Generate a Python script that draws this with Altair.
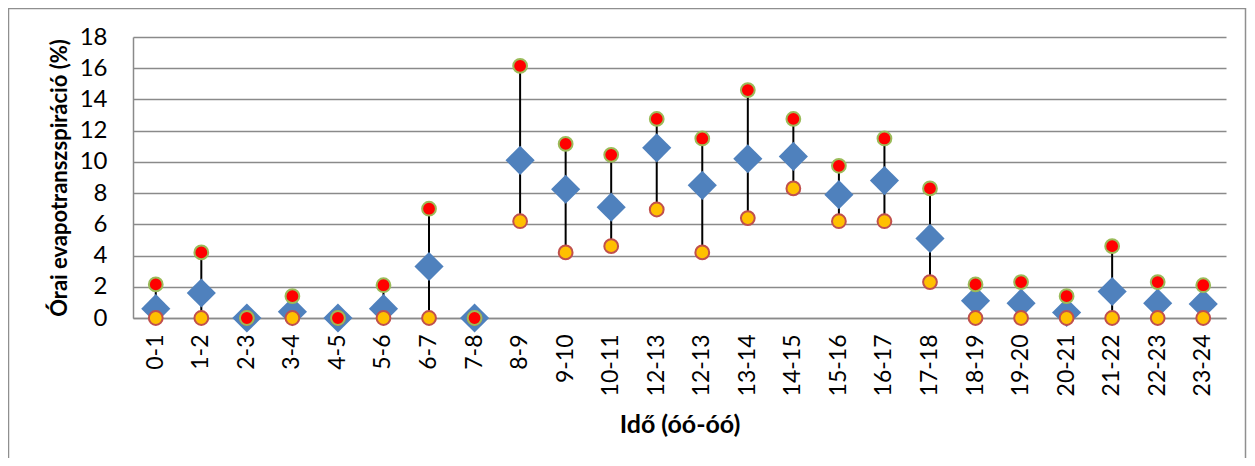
import altair as alt
import pandas as pd

labels = ["0-1", "1-2", "2-3", "3-4", "4-5", "5-6", "6-7", "7-8", "8-9", "9-10",
          "10-11", "12-13", "12-13", "13-14", "14-15", "15-16", "16-17", "17-18",
          "18-19", "19-20", "20-21", "21-22", "22-23", "23-24"]
mean_vals = [0.6, 1.6, 0.0, 0.4, 0.0, 0.6, 3.3, 0.0, 10.1, 8.25, 7.1, 10.9, 8.5,
             10.2, 10.35, 7.9, 8.8, 5.1, 1.1, 0.95, 0.35, 1.7, 0.95, 0.9]
max_vals = [2.15, 4.2, 0.0, 1.4, 0.0, 2.1, 7.0, 0.0, 16.15, 11.15, 10.45, 12.75, 11.5,
            14.6, 12.75, 9.75, 11.5, 8.3, 2.15, 2.3, 1.4, 4.6, 2.3, 2.1]
min_vals = [0.0, 0.0, 0.0, 0.0, 0.0, 0.0, 0.0, 0.0, 6.2, 4.2, 4.6, 6.95, 4.2,
            6.4, 8.3, 6.2, 6.2, 2.3, 0.0, 0.0, 0.0, 0.0, 0.0, 0.0]
y_ticks = [0, 2, 4, 6, 8, 10, 12, 14, 16, 18]

df = pd.DataFrame({
    "idx": list(range(len(labels))),
    "label": labels,
    "mean": mean_vals,
    "max": max_vals,
    "min": min_vals,
})

label_expr = "[" + ",".join("'" + l + "'" for l in labels) + "][datum.value]"

FONT = "Lato"
GRID = "#8a8a8a"

x_scale = alt.Scale(type="band", paddingInner=0, paddingOuter=0)
x_axis = alt.Axis(
    title="Idő (óó-óó)",
    labelExpr=label_expr,
    labelAngle=270,
    labelAlign="right",
    labelBaseline="middle",
    labelPadding=16,
    labelFontSize=23,
    labelFont=FONT,
    labelColor="#000000",
    labelOverlap=False,
    ticks=False,
    grid=False,
    domainColor=GRID,
    domainWidth=1.5,
    titleFont=FONT,
    titleFontSize=25,
    titleFontWeight="bold",
    titleColor="#000000",
    titlePadding=17,
)

y_scale = alt.Scale(domain=[0, 18], nice=False, zero=True)
y_axis = alt.Axis(
    title="Órai evapotranszspiráció (%)",
    values=y_ticks,
    tickCount=10,
    labelOverlap=False,
    labelFontSize=24,
    labelFont=FONT,
    labelColor="#000000",
    labelPadding=26,
    ticks=False,
    grid=True,
    gridColor=GRID,
    gridWidth=1.5,
    domainColor=GRID,
    domainWidth=1.5,
    titleFont=FONT,
    titleFontSize=22,
    titleFontWeight="bold",
    titleColor="#000000",
    titlePadding=8,
)

base = alt.Chart(df)

def xe():
    return alt.X("idx:O", scale=x_scale, axis=x_axis)

def ye(field):
    return alt.Y(field, scale=y_scale, axis=y_axis)

rules = base.mark_rule(color="#000000", strokeWidth=2).encode(
    x=xe(),
    y=ye("min:Q"),
    y2="max:Q",
)

diamonds = base.mark_point(shape="diamond", filled=True, size=850,
                           color="#4F81BD", opacity=1, strokeWidth=0).encode(
    x=xe(),
    y=ye("mean:Q"),
)

mins = base.mark_point(shape="circle", filled=True, size=190, fill="#FFC000",
                       stroke="#C0504D", strokeWidth=2, opacity=1).encode(
    x=xe(),
    y=ye("min:Q"),
)

maxs = base.mark_point(shape="circle", filled=True, size=190, fill="#FF0000",
                       stroke="#9BBB59", strokeWidth=2, opacity=1).encode(
    x=xe(),
    y=ye("max:Q"),
)

frame = alt.Chart(alt.Data(values=[{"f": 1}])).mark_rect(
    filled=False, stroke="#8f8f8f", strokeWidth=1.5
).encode(
    x=alt.value(-124.5),
    x2=alt.value(1112.5),
    y=alt.value(-28.5),
    y2=alt.value(470),
)

chart = alt.layer(frame, rules, diamonds, mins, maxs).properties(
    width=1093,
    height=281,
    padding={"left": 125, "top": 29, "right": 21, "bottom": 140},
    autosize=alt.AutoSizeParams(type="none"),
    background="#ffffff",
).configure_view(stroke=None)

chart.save("out.html", embed_options={"renderer": "svg", "actions": False})
